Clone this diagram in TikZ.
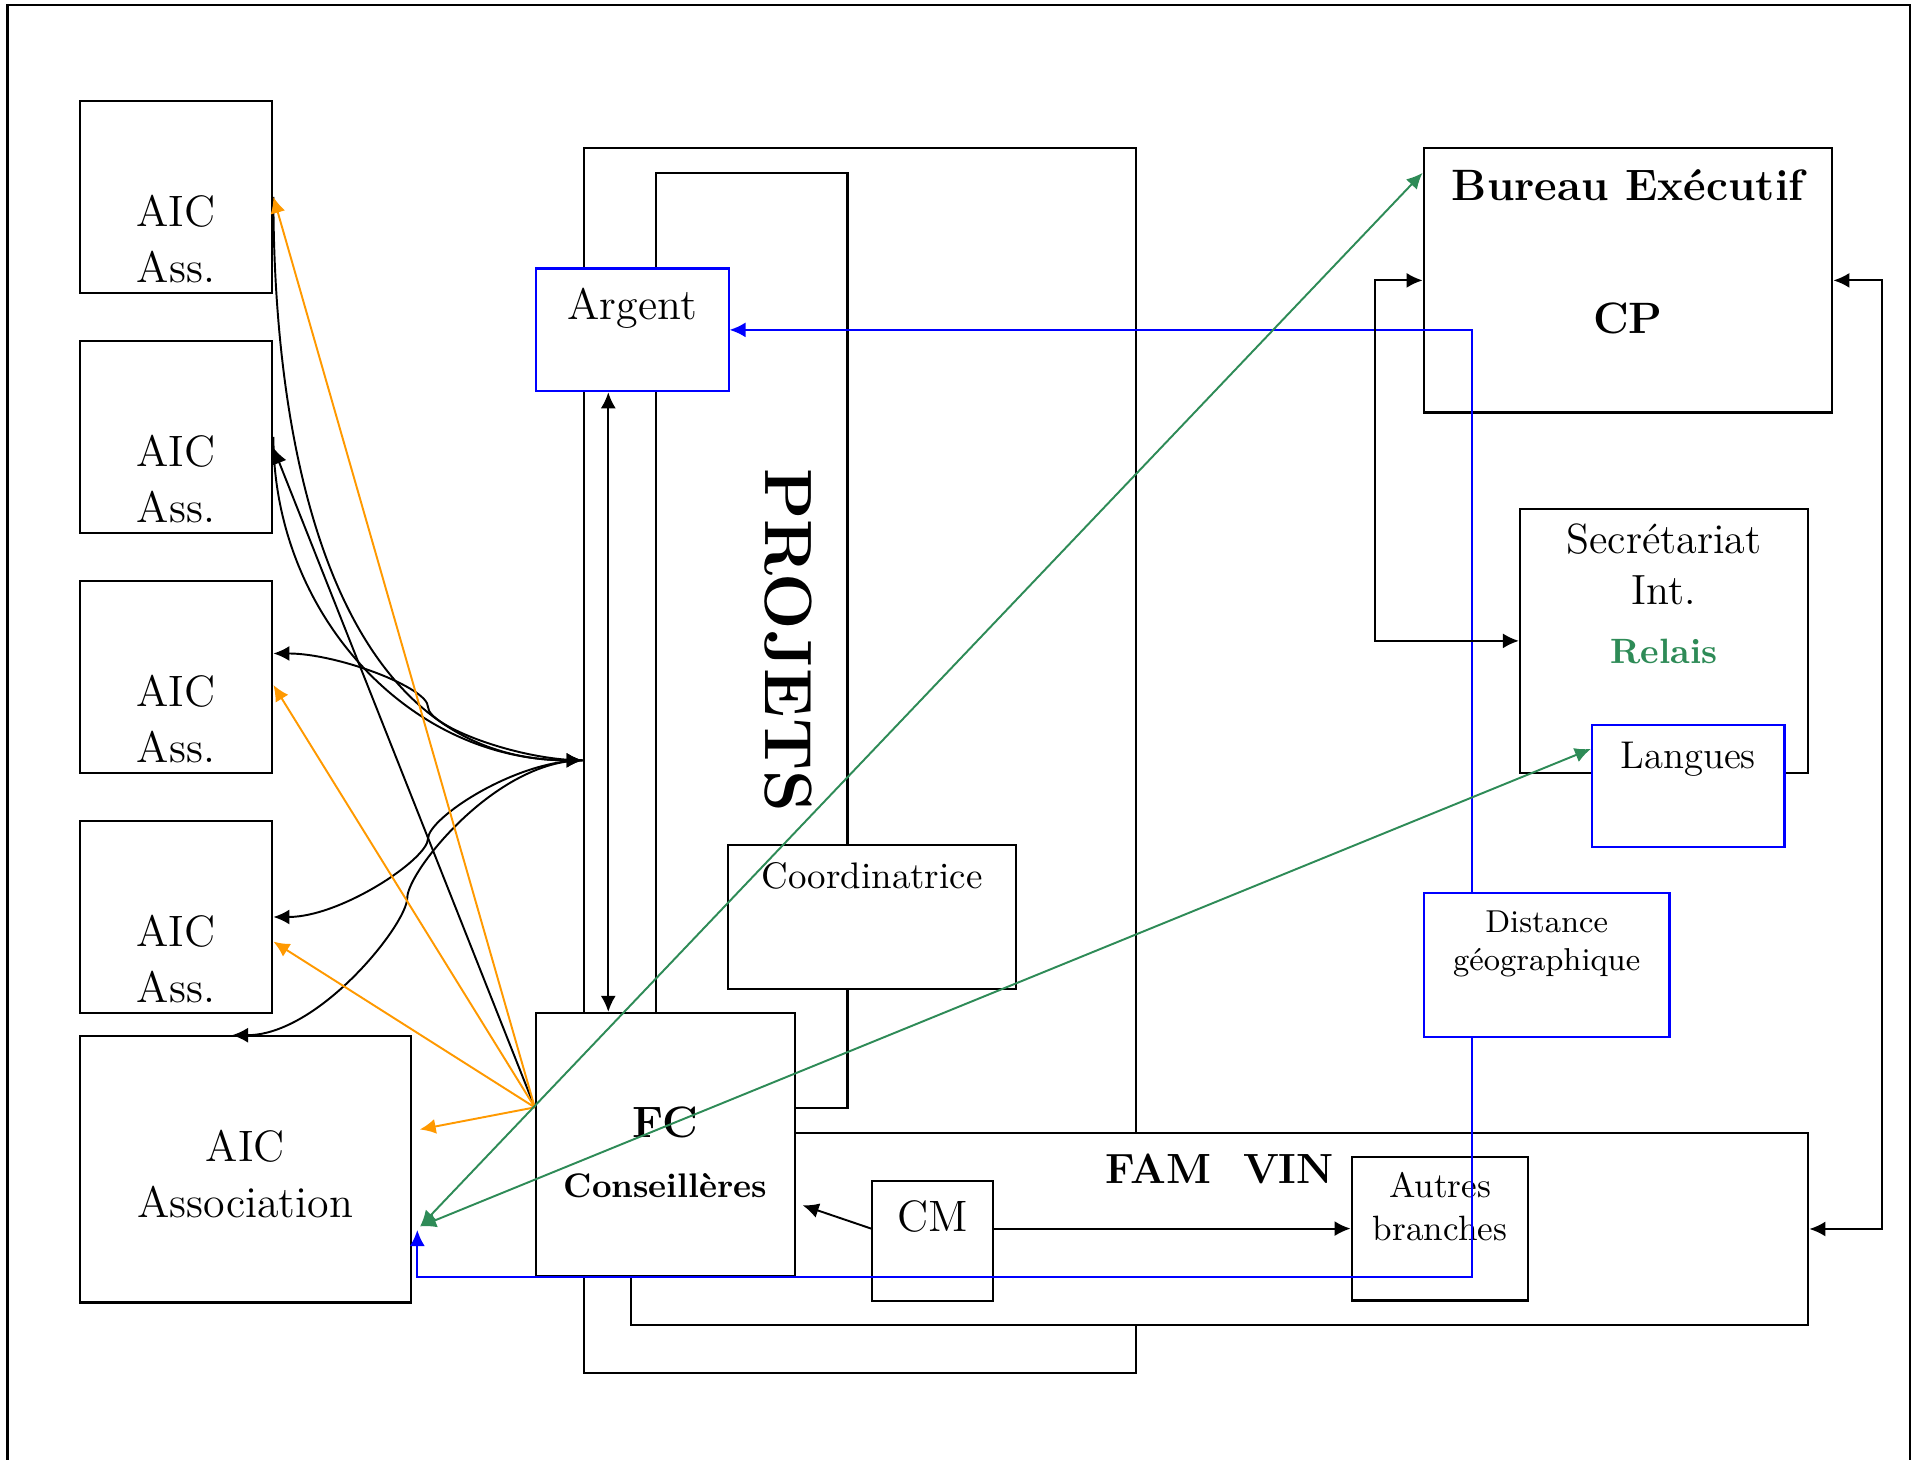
\documentclass[tikz,border=0pt]{standalone}
\usepackage{fontspec}
\usepackage{xcolor}
\usetikzlibrary{arrows.meta, calc}
\definecolor{amber}{RGB}{255,153,0}
\definecolor{relais}{RGB}{46,139,87}

\begin{document}
\begin{tikzpicture}[
    x=0.01cm, y=0.01cm,
    box/.style={draw, line width=0.6pt, fill=white, inner sep=0pt},
    bluebox/.style={box, draw=blue},
    txt/.style={anchor=base, align=center, inner sep=0pt},
    arr/.style={-{Latex[length=1.6mm, width=1.5mm]}, line width=0.55pt},
    dbl/.style={{Latex[length=1.6mm, width=1.5mm]}-{Latex[length=1.6mm, width=1.5mm]}, line width=0.55pt},
    orng/.style={arr, draw=amber},
    grn/.style={dbl, draw=relais},
    blu/.style={arr, draw=blue}
]

\useasboundingbox (0,0) rectangle (1923,1460);
\draw[line width=0.6pt] (7.5,0) -- (7.5,1455) -- (1910,1455) -- (1910,0);

\node[box, minimum width=5.518cm, minimum height=12.239cm] (projout) at (859.7,699.65) {};
\node[box, minimum width=1.913cm, minimum height=9.345cm] (projin) at (751.75,819.85) {};
\node[rotate=-90, inner sep=0pt, font=\fontsize{19}{23}\selectfont\bfseries] (projets) at ([xshift=0.3625cm]projin.center) {PROJETS};
\node[box, minimum width=11.764cm, minimum height=1.916cm] (famvin) at (1219.8,231) {};
\node[txt, font=\fontsize{12}{14.5}\selectfont\bfseries] (famvint) at ([yshift=-0.515cm]famvin.north) {FAM~~VIN};

\node[box, minimum width=1.926cm, minimum height=1.926cm] (ass1) at (176,1263) {};
\node[box, minimum width=1.926cm, minimum height=1.926cm] (ass2) at (176,1023) {};
\node[box, minimum width=1.926cm, minimum height=1.926cm] (ass3) at (176,783) {};
\node[box, minimum width=1.926cm, minimum height=1.926cm] (ass4) at (176,543) {};
\node[txt, font=\fontsize{12.5}{15.9}\selectfont] (ass1t) at ([yshift=-1.826cm]ass1.north) {AIC\\Ass.};
\node[txt, font=\fontsize{12.5}{15.9}\selectfont] (ass2t) at ([yshift=-1.826cm]ass2.north) {AIC\\Ass.};
\node[txt, font=\fontsize{12.5}{15.9}\selectfont] (ass3t) at ([yshift=-1.826cm]ass3.north) {AIC\\Ass.};
\node[txt, font=\fontsize{12.5}{15.9}\selectfont] (ass4t) at ([yshift=-1.826cm]ass4.north) {AIC\\Ass.};

\node[box, minimum width=3.311cm, minimum height=2.661cm] (assoc) at (245.3,290.6) {};
\node[txt, font=\fontsize{12.5}{15.9}\selectfont] (assoct) at ([yshift=-1.82cm]assoc.north) {AIC\\Association};

\node[bluebox, minimum width=1.926cm, minimum height=1.226cm] (argent) at (632.2,1130.1) {};
\node[txt, font=\fontsize{12.5}{15}\selectfont] (argentt) at ([yshift=-0.524cm]argent.north) {Argent};

\node[box, minimum width=2.59cm, minimum height=2.628cm] (fc) at (665.4,315.6) {};
\node[txt, font=\fontsize{12.5}{15}\selectfont\bfseries] (fct) at ([yshift=-1.254cm]fc.north) {FC};
\node[txt, font=\fontsize{9.7}{12}\selectfont\bfseries] (fcc) at ([yshift=-1.86cm]fc.north) {Conseillères};

\node[box, minimum width=2.873cm, minimum height=1.436cm] (coord) at (872.1,543) {};
\node[txt, font=\fontsize{10.5}{13}\selectfont] (coordt) at ([yshift=-0.44cm]coord.north) {Coordinatrice};

\node[box, minimum width=1.203cm, minimum height=1.196cm] (cm) at (932.4,218.8) {};
\node[txt, font=\fontsize{12.5}{15}\selectfont] (cmt) at ([yshift=-0.516cm]cm.north) {CM};

\node[box, minimum width=1.767cm, minimum height=1.438cm] (autres) at (1440,231.4) {};
\node[txt, font=\fontsize{10}{12}\selectfont] (autrest) at ([yshift=-0.845cm]autres.north) {Autres\\branches};

\node[box, minimum width=4.085cm, minimum height=2.641cm] (bureau) at (1628,1179.6) {};
\node[txt, font=\fontsize{12.5}{15}\selectfont\bfseries] (bureaut) at ([yshift=-0.533cm]bureau.north) {Bureau Exécutif};
\node[txt, font=\fontsize{12.5}{15}\selectfont\bfseries] (cpt) at ([yshift=-1.866cm]bureau.north) {CP};

\node[box, minimum width=2.88cm, minimum height=2.638cm] (secr) at (1664,819.1) {};
\node[txt, font=\fontsize{12}{14.5}\selectfont] (secrt) at ([yshift=-0.97cm]secr.north) {Secrétariat\\Int.};
\node[txt, font=\fontsize{10}{12}\selectfont\bfseries, text=relais] (relaist) at ([yshift=-1.558cm]secr.north) {Relais};

\node[bluebox, minimum width=1.924cm, minimum height=1.224cm] (langues) at (1688.2,673.8) {};
\node[txt, font=\fontsize{11}{13}\selectfont] (languest) at ([yshift=-0.443cm]langues.north) {Langues};

\node[bluebox, minimum width=2.454cm, minimum height=1.44cm] (dist) at (1546.7,495) {};
\node[txt, font=\fontsize{9}{11}\selectfont] (distt) at ([yshift=-0.79cm]dist.north) {Distance\\géographique};

\coordinate (fcpt) at ([yshift=0.37cm]fc.west);
\coordinate (argbot) at ([xshift=-0.239cm]argent.south);
\coordinate (assocpt) at ([xshift=0.081cm, yshift=-0.57cm]assoc.east);
\coordinate (bluein) at ([xshift=0.053cm, yshift=-0.606cm]assoc.east);
\coordinate (p3) at ([yshift=0.235cm]ass3.east);
\coordinate (pa) at ([xshift=-0.133cm]assoc.north);

\draw[arr] (ass1.east) to[out=-90, in=180] (projout.west);
\draw[arr] (ass2.east) to[out=-90, in=180] (projout.west);
\draw[arr] (projout.west) to[out=180, in=-90, in looseness=0.3] ($(projout.west)!0.5!(p3)$) to[out=90, in=0, out looseness=0.3] (p3);
\draw[arr] (projout.west) to[out=180, in=90, in looseness=0.3] ($(projout.west)!0.5!(ass4.east)$) to[out=-90, in=0, out looseness=0.3] (ass4.east);
\draw[arr] (projout.west) to[out=180, in=90, in looseness=0.3] ($(projout.west)!0.5!(pa)$) to[out=-90, in=0, out looseness=0.3] (pa);

\draw[arr] (fcpt) -- ([yshift=-0.108cm]ass2.east);
\draw[orng] (fcpt) -- (ass1.east);
\draw[orng] (fcpt) -- ([yshift=-0.08cm]ass3.east);
\draw[orng] (fcpt) -- ([yshift=-0.246cm]ass4.east);
\draw[orng] (fcpt) -- ([xshift=0.077cm, yshift=0.399cm]assoc.east);

\draw[dbl] (argbot) -- (argbot |- fc.north);

\draw[blu] ([xshift=-0.747cm]dist.north) |- (argent.east);
\draw[blu] ([xshift=-0.747cm]dist.south) |- (fc.south -| bluein) -- (bluein);

\draw[grn] ([yshift=-0.256cm]bureau.north west) -- (assocpt);
\draw[grn] ([yshift=-0.25cm]langues.north west) -- (assocpt);

\draw[dbl] (bureau.west) -- ++(-47.8,0) |- (secr.west);
\draw[dbl] (bureau.east) -- ++(48.3,0) |- (famvin.east);

\draw[arr] (autres.west -| cm.east) -- (autres.west);
\draw[arr] (autres.west -| cm.west) -- ([xshift=0.067cm, yshift=-0.609cm]fc.east);

\end{tikzpicture}
\end{document}
